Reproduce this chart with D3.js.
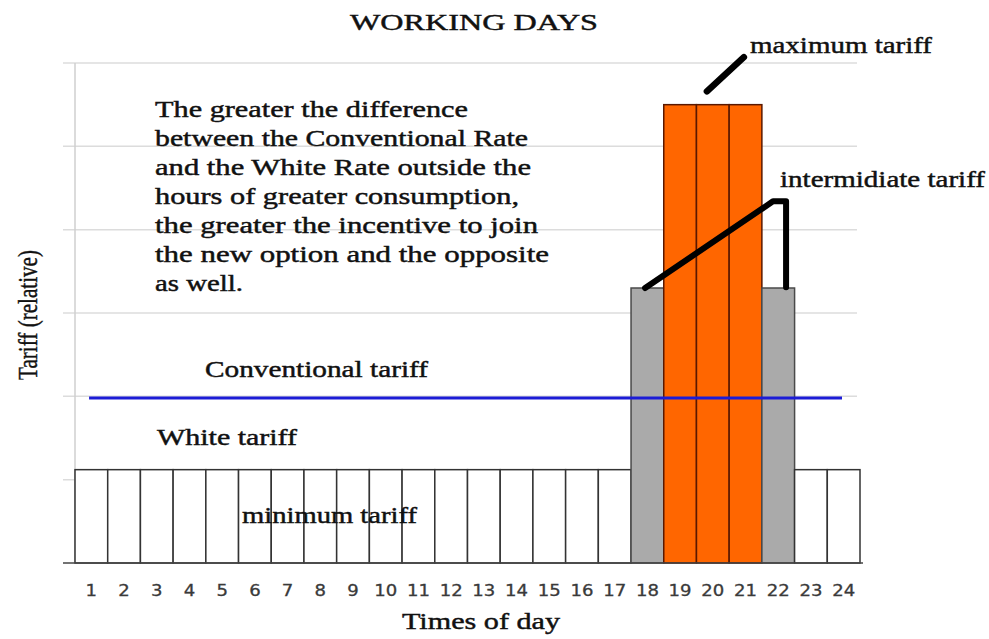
<!DOCTYPE html>
<html>
<head>
<meta charset="utf-8">
<script src="https://cdn.jsdelivr.net/npm/d3@7"></script>
<style>
  body { margin: 0; background: #fff; }
  .serif { font-family: "Liberation Serif", "Times New Roman", serif; fill: #111; stroke: #111; stroke-width: 0.45px; }
  .tick-lbl { font-family: "DejaVu Sans", Verdana, sans-serif; fill: #3a3a3a; stroke: #3a3a3a; stroke-width: 0.3px; }
</style>
</head>
<body>
<div class="chart"></div>
<script>
// Chart data
var hours = d3.range(1, 25).map(String)
var tariff = [1.12, 1.12, 1.12, 1.12, 1.12, 1.12, 1.12, 1.12, 1.12, 1.12, 1.12, 1.12,
              1.12, 1.12, 1.12, 1.12, 1.12, 3.30, 5.50, 5.50, 5.50, 3.30, 1.12, 1.12]
var tariffKind = ["min", "min", "min", "min", "min", "min", "min", "min", "min", "min", "min", "min",
                  "min", "min", "min", "min", "min", "mid", "max", "max", "max", "mid", "min", "min"]
var yTicks = [0, 1, 2, 3, 4, 5, 6]
var conventional = 1.98
var conventionalSpan = [0.43, 23.45]   // in hours
var leaderMax = [[19.32, 5.66], [20.45, 6.07]]
var leaderMid = [[17.43, 3.30], [21.34, 4.34], [21.74, 4.34], [21.74, 3.31]]

var paragraph = [
	"The greater the difference",
	"between the Conventional Rate",
	"and the White Rate outside the",
	"hours of greater consumption,",
	"the greater the incentive to join",
	"the new option and the opposite",
	"as well."
]

var svg_width = 989
var svg_height = 639
var margin = { top: 63, right: 129, bottom: 76, left: 75 }
var width = svg_width - margin.left - margin.right
var height = svg_height - margin.top - margin.bottom

var fills = { min: "#ffffff", mid: "#aaaaaa", max: "#ff6600" }
var strokes = { min: "#333333", mid: "#4a4a4a", max: "#5a1800" }

var svg = d3.select(".chart")
	.append("svg")
	.attr("width", svg_width)
	.attr("height", svg_height)

var g = svg.append("g")
	.attr("transform", `translate(${margin.left}, ${margin.top})`)

// Scales
var xScale = d3.scaleBand().domain(hours).range([0, width]).padding(0)
var xLin = d3.scaleLinear().domain([0, 24]).range([0, width])
var yScale = d3.scaleLinear().domain([0, 6]).range([height, 0])

// Gridlines
g.append("g")
	.selectAll("line")
	.data(yTicks.slice(1))
	.enter().append("line")
	.attr("x1", -12).attr("x2", width - 3)
	.attr("y1", d => yScale(d)).attr("y2", d => yScale(d))
	.attr("stroke", "#dcdcdc")
	.attr("stroke-width", 1.5)

// vertical axis line
g.append("line")
	.attr("x1", 0).attr("x2", 0)
	.attr("y1", yScale(6)).attr("y2", yScale(0))
	.attr("stroke", "#cfcfcf")
	.attr("stroke-width", 1.5)

// Bars
g.selectAll("rect.bar")
	.data(tariff)
	.enter().append("rect")
	.attr("class", "bar")
	.attr("x", (d, i) => xScale(hours[i]))
	.attr("y", d => yScale(d))
	.attr("width", xScale.bandwidth())
	.attr("height", d => yScale(0) - yScale(d))
	.attr("fill", (d, i) => fills[tariffKind[i]])
	.attr("stroke", (d, i) => strokes[tariffKind[i]])
	.attr("stroke-width", 1.5)

// baseline
g.append("line")
	.attr("x1", -12).attr("x2", width + 3)
	.attr("y1", yScale(0)).attr("y2", yScale(0))
	.attr("stroke", "#444")
	.attr("stroke-width", 1.5)

// Conventional tariff line
g.append("line")
	.attr("x1", xLin(conventionalSpan[0])).attr("x2", xLin(conventionalSpan[1]))
	.attr("y1", yScale(conventional)).attr("y2", yScale(conventional))
	.attr("stroke", "#1c1cd6")
	.attr("stroke-width", 3)

// Bottom axis labels
var bottom_axis = d3.axisBottom(xScale).tickSize(0).tickPadding(33)
var xAxis = g.append("g")
	.attr("transform", `translate(0, ${height})`)
	.call(bottom_axis)
xAxis.select(".domain").remove()
xAxis.selectAll("text")
	.attr("class", "tick-lbl")
	.attr("font-size", 15)
	.attr("dy", "0")
	.attr("textLength", d => d.length * 11.5)
	.attr("lengthAdjust", "spacingAndGlyphs")

// Leader lines
var line = d3.line().x(d => xLin(d[0])).y(d => yScale(d[1]))
g.append("path").attr("d", line(leaderMax))
	.attr("fill", "none").attr("stroke", "#000").attr("stroke-width", 6.5)
	.attr("stroke-linecap", "round")
g.append("path").attr("d", line(leaderMid))
	.attr("fill", "none").attr("stroke", "#000").attr("stroke-width", 6)
	.attr("stroke-linecap", "round").attr("stroke-linejoin", "round")

// Texts (page coordinates)
function addText(txt, x, y, size, len, anchor) {
	return svg.append("text")
		.attr("class", "serif")
		.attr("x", x).attr("y", y)
		.attr("font-size", size)
		.attr("text-anchor", anchor || "start")
		.attr("textLength", len)
		.attr("lengthAdjust", "spacingAndGlyphs")
		.text(txt)
}

addText("WORKING DAYS", 474, 30, 24, 248, "middle")
addText("Times of day", 481, 629, 24, 158, "middle")
addText("maximum tariff", 750, 53, 23, 182)
addText("intermidiate tariff", 780, 187, 23, 205)
addText("Conventional tariff", 205, 377, 23, 223)
addText("White tariff", 157, 445, 23, 140)
addText("minimum tariff", 242, 523, 23, 175)

var paraWidths = [313, 373, 376, 364, 383, 394, 88]
paragraph.forEach(function(t, i) {
	addText(t, 155, 117 + i * 29, 23, paraWidths[i])
})

svg.append("text")
	.attr("class", "serif")
	.attr("transform", "translate(37, 315) rotate(-90)")
	.attr("text-anchor", "middle")
	.attr("font-size", 28)
	.attr("textLength", 130)
	.attr("lengthAdjust", "spacingAndGlyphs")
	.text("Tariff (relative)")
</script>
</body>
</html>
